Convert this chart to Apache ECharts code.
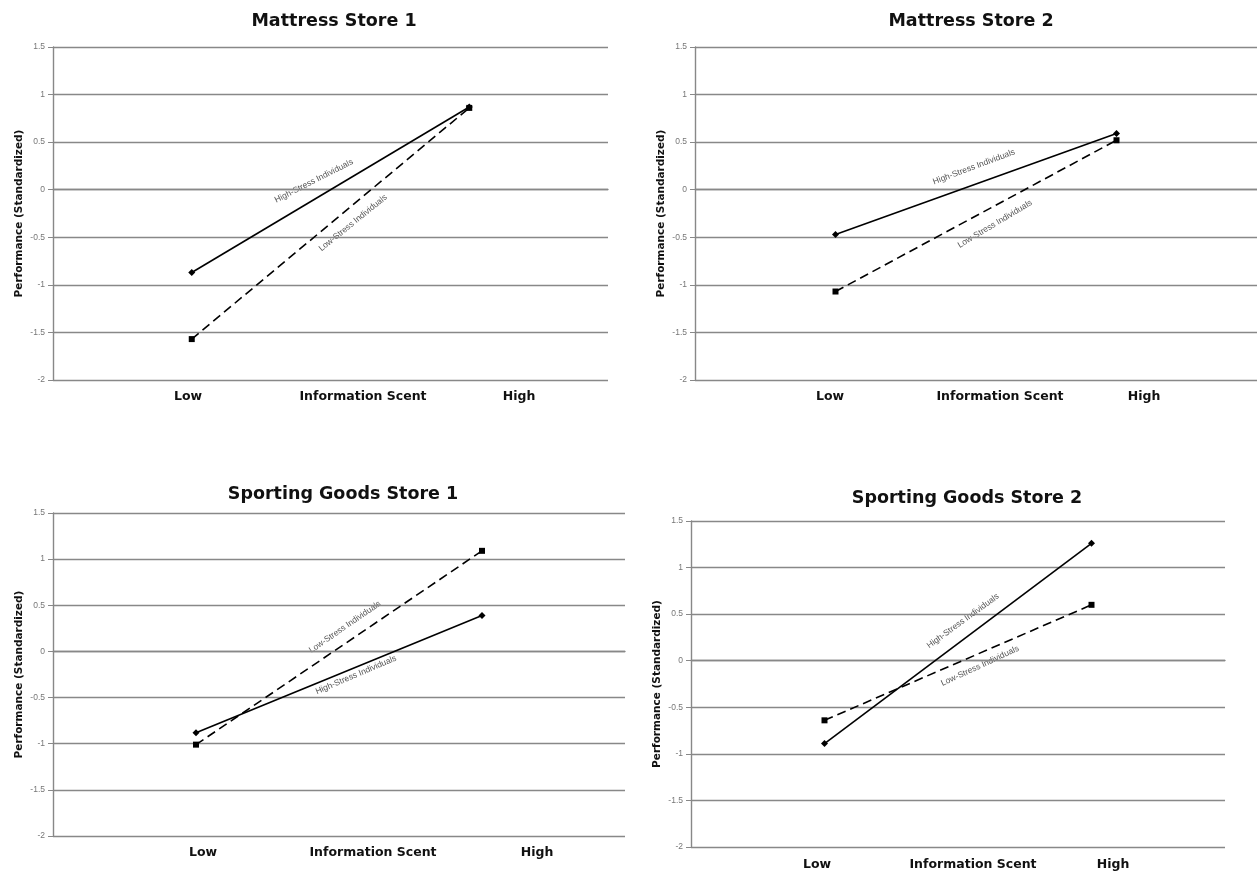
<!DOCTYPE html>
<html>
<head>
<meta charset="utf-8">
<script src="https://cdn.jsdelivr.net/npm/echarts@6/dist/echarts.min.js"></script>
<style>html,body{margin:0;padding:0;background:#fff}#c{width:1257px;height:876px}</style>
</head>
<body>
<div id="c"></div>
<script>
// ---- data ----
const categories = ['Low', 'High'];
const panelTitles = ['Mattress Store 1', 'Mattress Store 2', 'Sporting Goods Store 1', 'Sporting Goods Store 2'];
const xLabelTexts = ['Low', 'Information Scent', 'High'];
const yAxisTitle = 'Performance (Standardized)';
const seriesNames = ['High-Stress Individuals', 'Low-Stress Individuals'];
const mattress1High = [-0.87, 0.87];
const mattress1Low = [-1.57, 0.86];
const mattress2High = [-0.47, 0.59];
const mattress2Low = [-1.07, 0.52];
const sporting1High = [-0.88, 0.39];
const sporting1Low = [-1.01, 1.09];
const sporting2High = [-0.89, 1.26];
const sporting2Low = [-0.64, 0.60];
const yMin = -2, yMax = 1.5, yStep = 0.5;

const highSets = [mattress1High, mattress2High, sporting1High, sporting2High];
const lowSets = [mattress1Low, mattress2Low, sporting1Low, sporting2Low];

// ---- layout ----
const grids = [
  {left: 53, top: 47, width: 555, height: 333},
  {left: 695, top: 47, width: 562, height: 333},
  {left: 53, top: 513, width: 572, height: 323},
  {left: 691, top: 521, width: 534, height: 326}
];
const titlePos = [[329, 7], [966, 7], [338, 480], [962, 484]];
const xLabelPos = [
  [[188, 397], [363, 397], [519, 397]],
  [[830, 397], [1000, 397], [1144, 397]],
  [[203, 853], [373, 853], [537, 853]],
  [[817, 865], [973, 865], [1113, 865]]
];
// line annotation text: [x, y, angleDeg] for high-stress then low-stress
const annot = [
  [[314, 181, 27], [353, 223, 39]],
  [[974, 167, 20.5], [995, 224, 31]],
  [[356, 675, 23], [345, 627, 34.6]],
  [[963, 621, 36], [980, 666, 25]]
];

const gridColor = '#888888';
const option = {
  animation: false,
  backgroundColor: '#ffffff',
  title: panelTitles.map((t, i) => ({
    text: t, left: titlePos[i][0], top: titlePos[i][1], textAlign: 'center',
    textStyle: {fontFamily: 'DejaVu Sans', fontWeight: 'bold', fontSize: 17.5, color: '#111'}
  })),
  grid: grids,
  xAxis: grids.map((g, i) => ({
    type: 'category', gridIndex: i, data: categories, boundaryGap: true,
    axisLine: {show: true, lineStyle: {color: gridColor, width: 1.4}},
    axisTick: {show: false}, axisLabel: {show: false}, splitLine: {show: false}
  })),
  yAxis: grids.map((g, i) => ({
    type: 'value', gridIndex: i, min: yMin, max: yMax, interval: yStep,
    name: yAxisTitle, nameLocation: 'middle', nameGap: 28,
    nameTextStyle: {fontFamily: 'DejaVu Sans', fontWeight: 'bold', fontSize: 10.5, color: '#111'},
    axisLine: {show: true, lineStyle: {color: gridColor, width: 1.4}},
    axisTick: {show: true, length: 5, lineStyle: {color: gridColor}},
    axisLabel: {fontFamily: 'Liberation Sans', fontSize: 8.5, color: '#777', margin: 8},
    splitLine: {show: true, lineStyle: {color: gridColor, width: 1.4}}
  })),
  series: [].concat(...grids.map((g, i) => ([
    {
      name: seriesNames[0], type: 'line', xAxisIndex: i, yAxisIndex: i, data: highSets[i],
      symbol: 'diamond', symbolSize: 7, showSymbol: true,
      itemStyle: {color: '#000'}, lineStyle: {color: '#000', width: 1.6, type: 'solid'}
    },
    {
      name: seriesNames[1], type: 'line', xAxisIndex: i, yAxisIndex: i, data: lowSets[i],
      symbol: 'rect', symbolSize: 6, showSymbol: true,
      itemStyle: {color: '#000'}, lineStyle: {color: '#000', width: 1.6, type: [9, 5]}
    }
  ]))),
  graphic: [].concat(
    ...xLabelPos.map(row => row.map((p, k) => ({
      type: 'text', x: p[0], y: p[1],
      style: {text: xLabelTexts[k], fontFamily: 'DejaVu Sans', fontWeight: 'bold', fontSize: 12.5,
        fill: '#111', align: 'center', verticalAlign: 'middle'}
    }))),
    ...annot.map(pair => pair.map((a, k) => ({
      type: 'text', x: a[0], y: a[1], rotation: a[2] * Math.PI / 180,
      style: {text: seriesNames[k], fontFamily: 'Liberation Sans', fontSize: 8.5,
        fill: '#555', align: 'center', verticalAlign: 'middle'}
    })))
  )
};
const chart = echarts.init(document.getElementById('c'), null, {renderer: 'canvas'});
chart.setOption(option);
</script>
</body>
</html>
